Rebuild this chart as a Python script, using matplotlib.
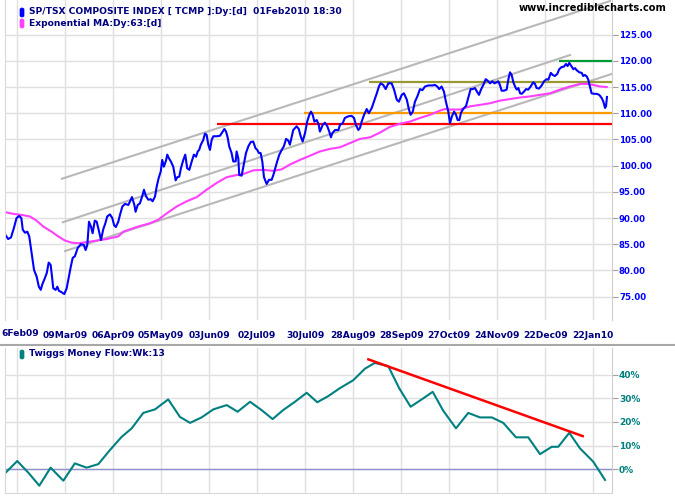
import matplotlib
matplotlib.use("Agg")
import matplotlib.pyplot as plt
from matplotlib.patches import FancyBboxPatch
from matplotlib.lines import Line2D

# x positions are trading days counted from 06Feb09
tick_pos = [0, 20, 40, 60, 80, 100, 120, 140, 160, 180, 200, 220, 240]
tick_labels = ["6Feb09", "09Mar09", "06Apr09", "05May09", "03Jun09", "02Jul09",
               "30Jul09", "28Aug09", "28Sep09", "27Oct09", "24Nov09", "22Dec09",
               "22Jan10"]

price_day = [
    -4.8, -3.8, -2.6, -1.4, -0.3, 0.8, 1.7, 2.3, 3.2, 4.2, 5.0, 6.0, 7.0, 8.1, 9.0,
    9.8, 10.4, 11.3, 12.3, 13.1, 13.9, 14.5, 15.0, 16.0, 16.7, 17.4, 18.3, 19.6,
    20.6, 21.4, 22.3, 23.1, 24.0, 25.2, 26.5, 27.7, 28.5, 29.2, 29.9, 30.7, 31.4,
    32.3, 33.1, 33.9, 34.9, 35.8, 36.7, 37.5, 38.6, 39.6, 40.4, 41.1, 42.1, 42.8,
    43.8, 44.9, 46.3, 47.0, 47.8, 48.8, 49.3, 50.2, 51.1, 52.1, 52.8, 53.6, 54.6,
    55.6, 56.4, 57.4, 58.1, 58.9, 59.8, 60.4, 61.1, 62.0, 62.5, 63.2, 64.0, 65.0,
    66.0, 66.7, 67.5, 68.2, 69.2, 70.0, 70.8, 71.7, 72.7, 73.6, 74.5, 75.2, 75.8,
    76.5, 77.5, 78.2, 78.9, 79.6, 80.3, 81.0, 81.7, 83.1, 84.5, 85.6, 86.3, 87.0,
    87.7, 88.3, 89.3, 90.0, 91.0, 91.4, 92.1, 92.5, 93.5, 94.5, 95.3, 96.3, 97.3,
    98.3, 99.3, 100.0, 100.7, 101.4, 102.1, 102.8, 103.9, 104.9, 106.0, 106.7,
    107.5, 108.3, 109.2, 110.2, 111.1, 112.0, 112.9, 113.6, 115.0, 116.4, 117.3,
    118.1, 118.9, 119.9, 120.8, 121.7, 122.4, 123.1, 123.8, 124.8, 125.6, 126.1,
    127.3, 128.2, 129.2, 130.0, 130.7, 131.3, 132.4, 133.8, 134.5, 135.6, 136.5,
    137.9, 139.3, 140.3, 141.1, 142.1, 142.8, 143.5, 144.5, 145.6, 146.5, 147.7,
    148.6, 149.8, 150.7, 151.4, 152.5, 153.5, 154.6, 156.0, 157.0, 158.1, 159.0,
    160.2, 161.1, 162.3, 163.2, 163.9, 164.8, 165.7, 166.7, 167.8, 168.8, 169.9,
    171.3, 173.1, 174.0, 175.0, 175.8, 176.8, 177.8, 178.6, 179.6, 180.3, 181.1,
    182.0, 182.8, 183.5, 184.2, 184.9, 185.8, 187.0, 187.9, 188.9, 189.8, 190.7,
    191.7, 192.4, 193.2, 194.2, 195.2, 196.0, 197.0, 197.9, 198.8, 199.8, 200.4,
    201.1, 201.8, 202.8, 203.9, 204.6, 205.3, 206.0, 206.7, 207.4, 208.1, 208.8,
    209.5, 210.2, 211.1, 212.0, 212.9, 213.9, 215.0, 215.7, 216.4, 217.4, 218.5,
    219.5, 220.6, 221.3, 222.3, 223.1, 224.0, 225.0, 225.8, 226.8, 227.8, 228.6,
    229.3, 230.0, 231.0, 231.7, 232.4, 233.1, 234.2, 235.2, 235.8, 236.5, 237.3,
    237.9, 238.6, 239.3, 240.3, 241.4, 242.5, 243.5, 244.2, 244.9, 245.3, 245.7]
price_close = [
    86.7, 86.0, 86.3, 88.1, 90.0, 90.4, 90.0, 87.8, 87.2, 87.4, 86.5, 83.3, 80.1,
    78.8, 76.9, 76.3, 77.3, 78.3, 79.5, 81.5, 81.1, 78.8, 76.6, 76.3, 76.9, 76.1,
    75.9, 75.5, 76.6, 78.5, 80.7, 82.4, 82.7, 84.3, 85.0, 84.9, 83.9, 84.9, 89.3,
    88.4, 87.1, 89.5, 89.3, 87.8, 85.8, 87.8, 89.0, 90.3, 90.7, 90.0, 88.6, 88.3,
    89.3, 90.6, 92.2, 92.7, 92.5, 93.2, 94.0, 92.5, 91.2, 92.5, 92.8, 94.2, 95.4,
    94.2, 93.5, 93.6, 93.2, 94.1, 96.0, 97.6, 98.9, 101.1, 99.8, 101.0, 102.1,
    101.4, 100.8, 99.8, 97.2, 97.8, 97.9, 99.5, 101.1, 102.1, 99.5, 99.2, 100.8,
    102.1, 101.7, 102.7, 103.0, 104.0, 104.9, 106.1, 105.9, 104.0, 103.0, 104.9,
    105.6, 105.6, 105.7, 106.5, 107.0, 106.5, 105.3, 103.7, 102.4, 100.8, 100.8,
    102.7, 101.4, 98.2, 98.1, 100.5, 102.4, 103.7, 104.5, 104.6, 103.3, 103.0,
    102.4, 102.4, 100.8, 97.8, 96.5, 97.3, 97.3, 98.2, 99.5, 100.8, 102.1, 103.0,
    103.7, 105.1, 104.8, 104.0, 106.8, 107.5, 107.0, 105.6, 104.6, 106.2, 108.4,
    109.7, 110.3, 109.7, 108.4, 108.7, 107.8, 106.5, 107.8, 108.2, 107.5, 106.5,
    105.4, 106.2, 106.8, 106.8, 107.8, 108.1, 109.1, 109.4, 109.5, 109.1, 107.8,
    106.8, 107.2, 108.4, 109.7, 110.8, 110.0, 111.0, 112.2, 113.8, 115.1, 115.7,
    115.4, 114.6, 115.7, 115.7, 114.5, 112.6, 112.2, 113.5, 113.8, 112.6, 110.7,
    109.7, 110.3, 112.2, 113.2, 114.6, 114.4, 115.1, 115.3, 115.3, 115.4, 115.1,
    114.6, 115.1, 114.1, 112.2, 110.3, 108.1, 109.4, 110.3, 109.7, 108.7, 108.7,
    110.1, 110.8, 111.4, 112.9, 114.6, 114.6, 114.8, 114.0, 113.5, 114.5, 115.4,
    116.5, 116.2, 115.7, 116.1, 115.7, 115.9, 116.1, 115.4, 114.3, 114.3, 114.5,
    116.4, 117.8, 117.3, 115.9, 115.1, 114.5, 114.8, 113.8, 113.7, 114.1, 114.6,
    114.5, 115.1, 115.9, 115.6, 114.8, 114.7, 115.3, 116.1, 116.5, 116.4, 117.7,
    117.3, 117.1, 117.5, 118.4, 118.8, 118.9, 119.4, 119.0, 119.6, 118.9, 118.4,
    118.6, 118.2, 117.8, 117.7, 117.1, 117.3, 117.0, 116.4, 115.1, 113.8, 113.7,
    113.7, 113.5, 112.9, 112.2, 111.0, 111.3, 113.1]

ema_day = [-4.8, -1.7, 1.8, 5.3, 8.1, 10.8, 14.3, 17.1, 19.9, 22.7, 25.4, 28.9,
           33.1, 37.3, 42.1, 44.2, 49.8, 55.3, 58.8, 62.3, 66.4, 70.6, 74.8, 78.9,
           83.1, 87.3, 91.4, 94.2, 98.3, 102.5, 106.7, 110.2, 113.6, 117.8, 122.0,
           126.1, 130.3, 134.5, 138.6, 142.8, 147.0, 151.1, 155.3, 159.5, 163.6,
           167.8, 172.0, 176.1, 178.2, 180.3, 184.5, 188.6, 192.8, 197.0, 201.1,
           205.3, 209.5, 213.6, 217.8, 222.0, 226.1, 230.3, 234.5, 237.3, 240.0,
           242.8, 245.6]
ema_value = [91.1, 90.8, 90.6, 90.3, 89.5, 88.4, 87.4, 86.5, 85.7, 85.3, 85.2,
             85.4, 85.7, 86.0, 86.5, 87.4, 88.3, 89.0, 89.7, 90.9, 92.2, 93.2,
             94.0, 95.4, 96.7, 97.8, 98.2, 98.4, 99.1, 99.2, 99.0, 99.3, 100.2,
             101.1, 101.9, 102.7, 103.2, 103.5, 104.3, 105.1, 105.4, 106.3, 107.4,
             108.0, 108.4, 109.1, 109.7, 110.5, 110.8, 110.7, 110.7, 111.3, 111.6,
             111.9, 112.4, 112.7, 113.0, 113.2, 113.5, 113.8, 114.5, 115.1, 115.6,
             115.6, 115.4, 115.1, 115.0]

# trend channel lines: (start day, start value, end day, end value)
channel_lines = [(18.6, 97.5, 247.0, 131.4),
                 (19.0, 89.2, 230.3, 121.1),
                 (19.9, 83.7, 247.8, 117.5)]

level_values = [108.0, 110.0, 116.0, 120.0]
level_start = [83.1, 119.5, 146.5, 225.7]
level_colors = ["#ff0000", "#ff9900", "#999933", "#009933"]

tmf_day = [-5.1, 0.0, 4.6, 9.2, 13.9, 19.2, 24.0, 28.9, 33.8, 38.6, 43.5, 47.7,
           52.5, 57.4, 62.9, 67.8, 72.0, 76.8, 81.7, 87.3, 91.8, 97.0, 101.8,
           106.4, 110.8, 115.7, 120.6, 125.0, 129.6, 134.2, 140.0, 144.9, 149.0,
           154.6, 159.2, 163.9, 168.5, 173.1, 177.5, 182.8, 187.9, 192.8, 197.7,
           202.5, 207.8, 212.9, 217.8, 222.7, 225.4, 230.0, 234.5, 240.0, 244.9]
tmf_value = [-1.7, 3.5, -1.4, -6.9, 0.7, -4.8, 2.5, 0.7, 2.2, 8.1, 13.7, 17.3,
             23.8, 25.3, 29.5, 22.1, 19.6, 21.9, 25.3, 27.1, 24.3, 28.5, 25.0,
             21.2, 25.0, 28.5, 32.3, 28.3, 30.9, 34.1, 37.6, 42.5, 44.9, 43.5,
             34.1, 26.4, 29.5, 32.7, 24.7, 17.3, 23.8, 21.9, 21.9, 19.6, 13.5,
             13.5, 6.4, 9.5, 9.5, 15.4, 8.8, 3.2, -4.5]
tmf_trend = [(146.3, 46.4), (235.6, 14.0)]

W, H = 675, 500
xlim = (-5.1, 247.8)

fig = plt.figure(figsize=(6.75, 5), dpi=100)
fig.patch.set_facecolor("white")
ax1 = fig.add_axes([5 / W, 1 - 320 / H, 607 / W, 320 / H])
ax2 = fig.add_axes([5 / W, 1 - 493 / H, 607 / W, 145 / H])

for ax in (ax1, ax2):
    ax.set_xlim(*xlim)
    ax.set_xticks(tick_pos)
    ax.grid(True, color="#e0e0e0", lw=1.0)
    ax.set_axisbelow(True)
    ax.spines["top"].set_visible(False)
    ax.spines["left"].set_color("#d8d8d8")
    ax.spines["right"].set_color("#d0d0d0")
    ax.yaxis.tick_right()
    ax.tick_params(axis="y", direction="out", length=4, color="#a0a0a0", pad=1)
    ax.tick_params(axis="x", length=0)

# ---- price panel
ax1.spines["bottom"].set_visible(False)
ax1.set_ylim(70.55, 131.6)
ax1.set_yticks(range(75, 126, 5))
ax1.set_yticklabels(["%.2f" % v for v in range(75, 126, 5)], color="#0000ff",
                    fontsize=6.2, fontweight="bold")
# first date label sits against the left edge, the rest are centred on the grid
ax1.set_xticklabels([""] + tick_labels[1:], color="#000080", fontsize=6.6,
                    fontweight="bold")
ax1.tick_params(axis="x", pad=8)
fig.text(1 / W, 1 - 334 / H, tick_labels[0], color="#000080", fontsize=6.6,
         fontweight="bold", va="center", ha="left")

for x0, y0, x1, y1 in channel_lines:
    ax1.plot([x0, x1], [y0, y1], color="#b8b8b8", lw=1.5)
for v, s, c in zip(level_values, level_start, level_colors):
    ax1.hlines(v, s, xlim[1], color=c, lw=1.6)
ax1.plot(ema_day, ema_value, color="#ff40ff", lw=1.5)
ax1.plot(price_day, price_close, color="#0000ff", lw=1.5)

# ---- money flow panel
ax2.set_ylim(-10, 51.2)
ax2.set_yticks([0, 10, 20, 30, 40])
ax2.set_yticklabels(["0%", "10%", "20%", "30%", "40%"], color="#008080",
                    fontsize=6.5, fontweight="bold")
ax2.set_xticklabels([])
ax2.spines["bottom"].set_color("#d8d8d8")
ax2.axhline(0, color="#9090d0", lw=1.0)
ax2.plot(tmf_day, tmf_value, color="#008080", lw=1.5)
ax2.plot([p[0] for p in tmf_trend], [p[1] for p in tmf_trend], color="#ff0000", lw=1.8)

# separator between panels
fig.add_artist(Line2D([0, 1], [1 - 345 / H, 1 - 345 / H], color="#a8a8a8", lw=1.5))

# legend texts
def legend_item(ypx, color, text):
    fig.add_artist(FancyBboxPatch((20 / W, 1 - (ypx + 5) / H), 4 / W, 9 / H,
                                  boxstyle="round,pad=0,rounding_size=0.003",
                                  facecolor=color, edgecolor=color, lw=0.5))
    fig.text(29 / W, 1 - ypx / H, text, color="#000080", fontsize=6.6,
             fontweight="bold", va="center", ha="left")

legend_item(12, "#0000ff", "SP/TSX COMPOSITE INDEX [ TCMP ]:Dy:[d]  01Feb2010 18:30")
legend_item(23, "#ff40ff", "Exponential MA:Dy:63:[d]")
legend_item(354, "#008080", "Twiggs Money Flow:Wk:13")
fig.text(667 / W, 1 - 8 / H, "www.incrediblecharts.com", color="black", fontsize=7.1,
         fontweight="bold", va="center", ha="right")

fig.savefig("out.png", dpi=100, facecolor="white")
